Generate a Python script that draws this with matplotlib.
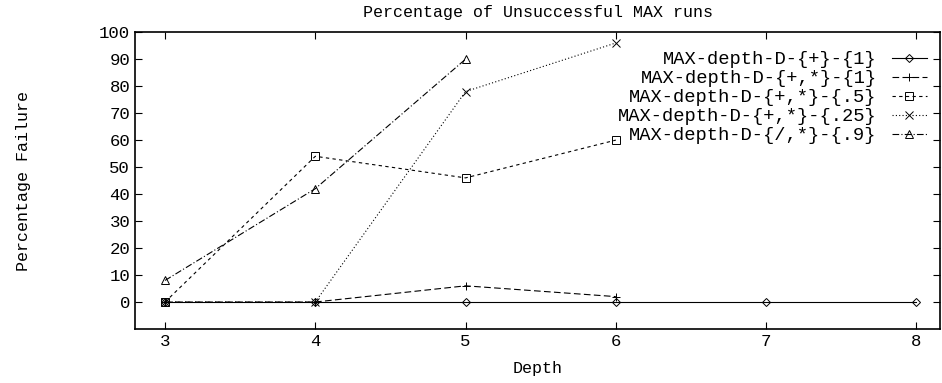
import matplotlib
matplotlib.use("Agg")
from matplotlib import pyplot as plt

plt.rcParams['font.family'] = ['Liberation Mono', 'DejaVu Sans Mono']

depth_a = [3, 4, 5, 6, 7, 8]
fail_a = [0, 0, 0, 0, 0, 0]
depth_b = [3, 4, 5, 6]
fail_b = [0, 0, 6, 2]
depth_c = [3, 4, 5, 6]
fail_c = [0, 54, 46, 60]
depth_d = [3, 4, 5, 6]
fail_d = [0, 0, 78, 96]
depth_e = [3, 4, 5]
fail_e = [8, 42, 90]

labels = ["MAX-depth-D-{+}-{1}", "MAX-depth-D-{+,*}-{1}", "MAX-depth-D-{+,*}-{.5}",
          "MAX-depth-D-{+,*}-{.25}", "MAX-depth-D-{/,*}-{.9}"]

fig = plt.figure(figsize=(9.42, 3.83), dpi=100)
ax = fig.add_axes([0.1433, 0.141, 0.855, 0.775])

kw = dict(color="black", lw=0.8, markerfacecolor="none", markeredgecolor="black", markeredgewidth=0.7, markersize=6)
ax.plot(depth_a, fail_a, marker="D", linestyle="-", label=labels[0], **dict(kw, markersize=4.5))
ax.plot(depth_b, fail_b, marker="+", linestyle=(0, (6, 3)), label=labels[1], **kw)
ax.plot(depth_c, fail_c, marker="s", linestyle=(0, (3, 3)), label=labels[2], **kw)
ax.plot(depth_d, fail_d, marker="x", linestyle=(0, (1, 2)), label=labels[3], **kw)
ax.plot(depth_e, fail_e, marker="^", linestyle=(0, (6, 2, 1, 2)), label=labels[4], **kw)

ax.set_xlim(2.8, 8.16)
ax.set_ylim(-10, 100)
ax.set_xticks(range(3, 9))
ax.set_yticks(range(0, 101, 10))
ax.tick_params(direction="in", top=True, right=True, labelsize=12.5, length=5, width=0.8)
for s in ax.spines.values():
    s.set_linewidth(1.2)

ax.set_title("Percentage of Unsuccessful MAX runs", fontsize=12, pad=11)
ax.set_xlabel("Depth", fontsize=12, labelpad=9)
ax.set_ylabel("Percentage Failure", fontsize=12, labelpad=49)

ax.legend(loc="upper right", markerfirst=False, frameon=False, fontsize=13.5,
          handlelength=1.9, labelspacing=0.1, borderaxespad=0.3, handletextpad=0.8,
          bbox_to_anchor=(1.0, 0.98))

fig.savefig("out.png", dpi=100)
